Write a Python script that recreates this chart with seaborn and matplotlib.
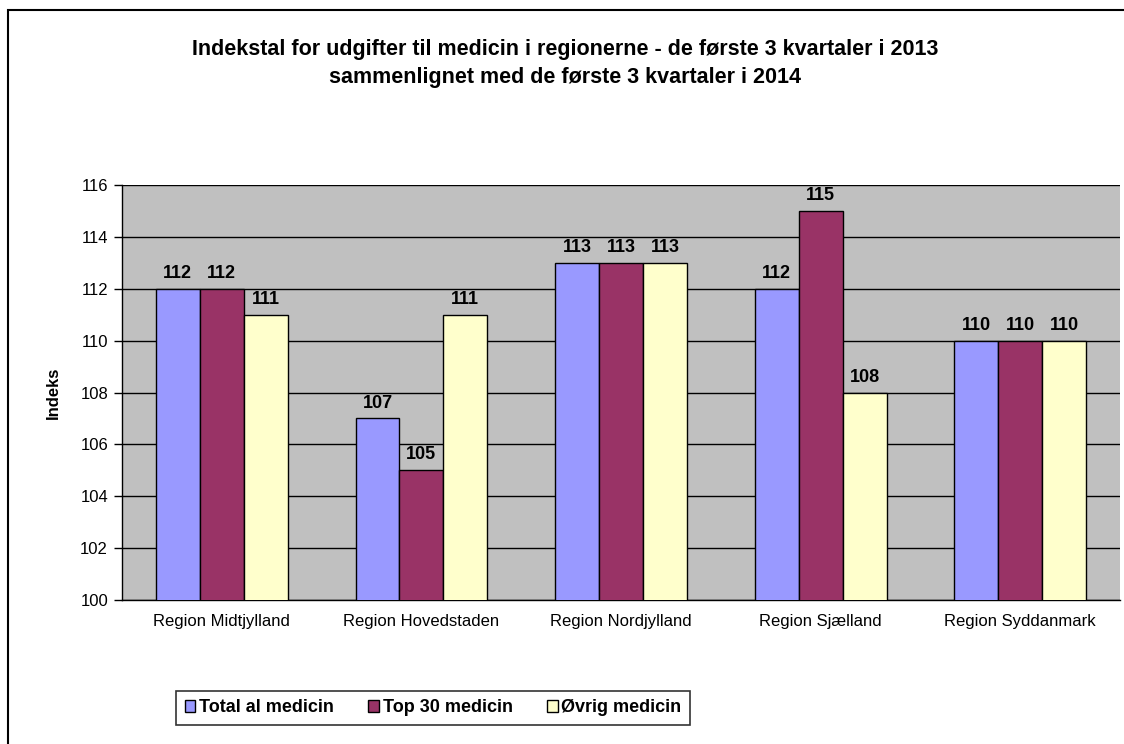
import matplotlib
matplotlib.use("Agg")
import matplotlib.pyplot as plt
import seaborn as sns
import pandas as pd
from matplotlib.patches import Rectangle, Patch

regions = ["Region Midtjylland", "Region Hovedstaden", "Region Nordjylland",
           "Region Sjælland", "Region Syddanmark"]
series = ["Total al medicin", "Top 30 medicin", "Øvrig medicin"]
total = [112, 107, 113, 112, 110]
top30 = [112, 105, 113, 115, 110]
oevrig = [111, 111, 113, 108, 110]
colors = ["#9999FF", "#993366", "#FFFFCC"]
yticks = [100, 102, 104, 106, 108, 110, 112, 114, 116]

rows = []
for s, vals in zip(series, [total, top30, oevrig]):
    for r, v in zip(regions, vals):
        rows.append({"Region": r, "Serie": s, "Indeks": v})
df = pd.DataFrame(rows)

sns.set_style("white")
plt.rcParams['font.family'] = ['Liberation Sans', 'DejaVu Sans']
plt.rcParams['text.color'] = 'black'
plt.rcParams['axes.labelcolor'] = 'black'
plt.rcParams['xtick.color'] = 'black'
plt.rcParams['ytick.color'] = 'black'

fig = plt.figure(figsize=(11.24, 7.44), dpi=100)
ax = fig.add_axes([0.1085, 0.1935, 0.8880, 0.5578])
ax.set_facecolor("#C0C0C0")

sns.barplot(data=df, x="Region", y="Indeks", hue="Serie", palette=colors,
            saturation=1, width=0.66, edgecolor="black", linewidth=1, ax=ax,
            legend=False, zorder=3)

ax.set_ylim(100, 116)
ax.set_yticks(yticks)
ax.set_yticklabels([str(t) for t in yticks], fontsize=12)
ax.yaxis.grid(True, color="black", linewidth=1, zorder=0)
ax.set_axisbelow(True)
ax.tick_params(axis="y", direction="out", length=6, width=1, color="black", left=True, pad=4)
ax.tick_params(axis="x", length=0, pad=10, labelsize=12)
ax.set_xlabel("")
ax.set_ylabel("Indeks", fontsize=12, fontweight="bold", labelpad=14)
for side in ["top", "right"]:
    ax.spines[side].set_visible(False)
for side in ["left", "bottom"]:
    ax.spines[side].set_color("black")
    ax.spines[side].set_linewidth(1)

for cont in ax.containers:
    ax.bar_label(cont, fmt="%d", padding=5, fontsize=13, fontweight="bold", color="black")

handles = [Patch(facecolor=c, edgecolor="black", linewidth=1) for c in colors]
leg = fig.legend(handles, series, loc="center", bbox_to_anchor=(433/1124, 1 - 708/744),
                 ncol=3, frameon=True, fancybox=False, edgecolor="black",
                 handlelength=0.6, handleheight=0.6, handletextpad=0.2,
                 columnspacing=1.9, borderpad=0.45,
                 prop={"size": 13, "weight": "bold"})
leg.get_frame().set_linewidth(1.2)

fig.text(565/1124, 1 - 50/744, "Indekstal for udgifter til medicin i regionerne - de første 3 kvartaler i 2013",
         ha="center", va="center", fontsize=15.5, fontweight="bold")
fig.text(565/1124, 1 - 78/744, "sammenlignet med de første 3 kvartaler i 2014",
         ha="center", va="center", fontsize=15.5, fontweight="bold")

fig.patches.append(Rectangle((8/1124, -0.05), 1.2, 1 - 10/744 + 0.05, transform=fig.transFigure,
                             fill=False, edgecolor="black", linewidth=1.5, figure=fig))

fig.savefig("out.png", dpi=100)
